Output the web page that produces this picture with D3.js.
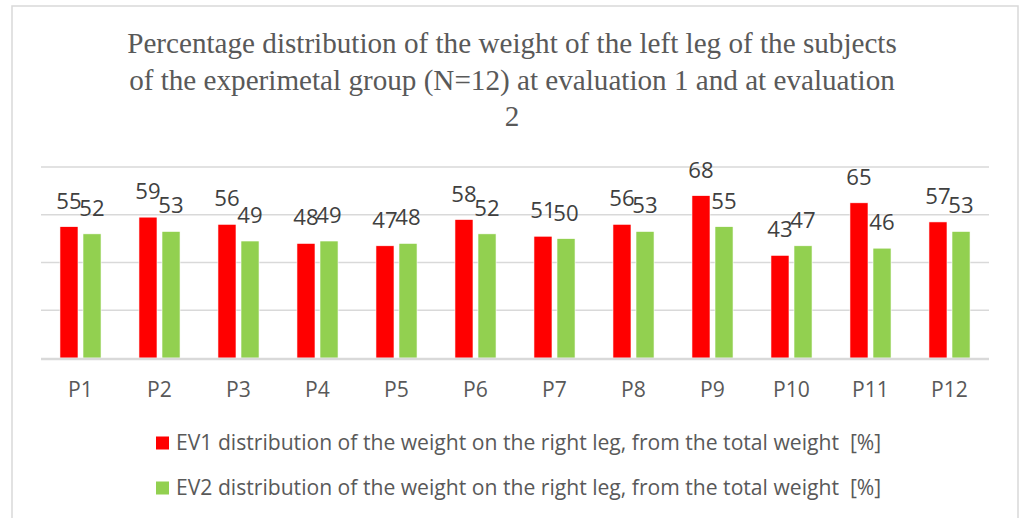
<!DOCTYPE html>
<html>
<head>
<meta charset="utf-8">
<script src="https://cdn.jsdelivr.net/npm/d3@7"></script>
<style>
  body { margin: 0; background: #fff; }
  text { white-space: pre; }
</style>
</head>
<body>
<svg id="chart" width="1021" height="518"></svg>
<script>
// data
var participants = ["P1", "P2", "P3", "P4", "P5", "P6", "P7", "P8", "P9", "P10", "P11", "P12"];
var ev1 = [55, 59, 56, 48, 47, 58, 51, 56, 68, 43, 65, 57];
var ev2 = [52, 53, 49, 49, 48, 52, 50, 53, 55, 47, 46, 53];
var seriesNames = [
    "EV1 distribution of the weight on the right leg, from the total weight  [%]",
    "EV2 distribution of the weight on the right leg, from the total weight  [%]"
];
var seriesColors = ["#FF0000", "#92D050"];
var yTicks = [0, 20, 40, 60, 80];
var titleLines = [
    "Percentage distribution of the weight of the left leg of the subjects",
    "of the experimetal group (N=12) at evaluation 1 and at evaluation",
    "2"
];

var svg = d3.select("#chart"),
    margin = {left: 41, right: 32, top: 167, bottom: 160},
    width = +svg.attr("width") - margin.left - margin.right;

var sansFont = "'Open Sans', 'Noto Sans', sans-serif";
var textColor = "#595959";

// fit a text element to a width by changing its font size
function fitSize(sel, base, target) {
    sel.style("font-size", base + "px");
    var w = sel.node().getComputedTextLength();
    var s = base * target / w;
    sel.style("font-size", s + "px");
    return s;
}

// outer frame
svg.append("rect")
    .attr("x", 12).attr("y", 6)
    .attr("width", 1006).attr("height", 530)
    .style("fill", "#fff")
    .style("stroke", "#d9d9d9")
    .style("stroke-width", 1.5);

// title
var titleG = svg.append("g");
var titleSize = 0;
titleLines.forEach(function (t, i) {
    var el = titleG.append("text")
        .attr("x", 512)
        .attr("y", 53 + i * 36.5)
        .attr("text-anchor", "middle")
        .style("font-family", "'Liberation Serif', 'DejaVu Serif', serif")
        .style("fill", textColor)
        .text(t);
    if (i === 0) titleSize = fitSize(el, 24, 770);
    else el.style("font-size", titleSize + "px");
});

var y = d3.scaleLinear().domain([0, 80]).range([358, 167]);

var x0 = d3.scaleBand().domain(participants)
    .range([margin.left, margin.left + width])
    .paddingInner(0.48).paddingOuter(0.24);

var x1 = d3.scaleBand().domain([0, 1])
    .range([0, x0.bandwidth()])
    .paddingInner(0.217).paddingOuter(0);

// gridlines
svg.append("g").selectAll("line")
    .data(yTicks.slice(1))
    .enter().append("line")
    .attr("x1", margin.left)
    .attr("x2", margin.left + width)
    .attr("y1", d => y(d))
    .attr("y2", d => y(d))
    .style("stroke", "#d9d9d9")
    .style("stroke-width", 1.5);

// bars
var rows = participants.map(function (p, i) {
    return {name: p, vals: [ev1[i], ev2[i]]};
});

var groups = svg.append("g").selectAll("g")
    .data(rows)
    .enter().append("g")
    .attr("transform", d => "translate(" + x0(d.name) + ",0)");

groups.selectAll("rect")
    .data(d => d.vals.map((v, k) => ({k: k, v: v})))
    .enter().append("rect")
    .attr("x", d => x1(d.k))
    .attr("y", d => y(d.v))
    .attr("width", x1.bandwidth())
    .attr("height", d => y(0) - y(d.v))
    .style("fill", d => seriesColors[d.k])
    .style("stroke", "#fff")
    .style("stroke-width", 0.6);

// baseline
svg.append("line")
    .attr("x1", margin.left)
    .attr("x2", margin.left + width)
    .attr("y1", y(0) + 1)
    .attr("y2", y(0) + 1)
    .style("stroke", "#d9d9d9")
    .style("stroke-width", 2.5);

// legend (measured first, its size is reused for the other sans texts)
var legendG = svg.append("g");
var legendSize = 0;
seriesNames.forEach(function (s, i) {
    var ly = 443 + i * 45;
    legendG.append("rect")
        .attr("x", 156)
        .attr("y", ly - 6.5)
        .attr("width", 13)
        .attr("height", 13)
        .style("fill", seriesColors[i]);
    var el = legendG.append("text")
        .attr("x", 176)
        .attr("y", ly + 7)
        .style("font-family", sansFont)
        .style("fill", textColor)
        .text(s);
    if (i === 0) legendSize = fitSize(el, 20, 706);
    else el.style("font-size", legendSize + "px");
});

// data labels
groups.selectAll("text")
    .data(d => d.vals.map((v, k) => ({k: k, v: v})))
    .enter().append("text")
    .attr("x", d => x1(d.k) + x1.bandwidth() / 2)
    .attr("y", d => y(d.v) - 18)
    .attr("text-anchor", "middle")
    .style("font-family", sansFont)
    .style("font-size", (legendSize + 1) + "px")
    .style("fill", "#404040")
    .text(d => d.v);

// category axis labels
svg.append("g").selectAll("text")
    .data(participants)
    .enter().append("text")
    .attr("x", d => x0(d) + x0.bandwidth() / 2)
    .attr("y", 397)
    .attr("text-anchor", "middle")
    .style("font-family", sansFont)
    .style("font-size", legendSize + "px")
    .style("fill", textColor)
    .text(d => d);
</script>
</body>
</html>
